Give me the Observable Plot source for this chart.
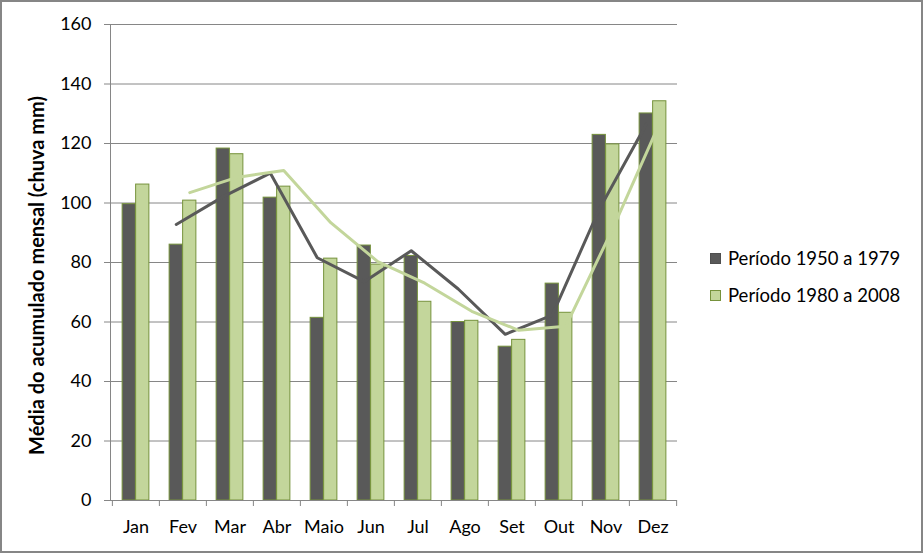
<!DOCTYPE html>
<html>
<head>
<meta charset="utf-8">
<script src="https://cdn.jsdelivr.net/npm/d3@7"></script>
<script src="https://cdn.jsdelivr.net/npm/@observablehq/plot@0.6"></script>
<style>
  body { margin: 0; background: #fff; }
  #chart { position: relative; width: 923px; height: 553px; overflow: hidden; font-family: Lato, sans-serif; background: #fff; }
  #chart svg { position: absolute; left: 0; top: 0; overflow: visible; }
  #border { position: absolute; left: 0; top: 0; width: 923px; height: 553px; box-sizing: border-box; border: 2px solid #868686; pointer-events: none; }
  .leg { position: absolute; left: 710px; height: 20px; display: flex; align-items: center; font-size: 18.5px; color: #000; white-space: nowrap; }
  .leg .sw { display: inline-block; width: 9px; height: 9px; border: 1px solid #76923c; margin-right: 7px; }
</style>
</head>
<body>
<div id="chart"><div id="border"></div></div>
<script>
const months = ["Jan", "Fev", "Mar", "Abr", "Maio", "Jun", "Jul", "Ago", "Set", "Out", "Nov", "Dez"];
const periodo1950 = [99.6, 86.0, 118.3, 101.8, 61.4, 85.7, 82.2, 60.0, 51.7, 72.9, 122.9, 130.1];
const periodo1980 = [106.2, 100.8, 116.4, 105.5, 81.3, 79.3, 66.8, 60.4, 54.0, 63.1, 119.7, 134.2];
const seriesNames = ["Período 1950 a 1979", "Período 1980 a 2008"];
const yTicks = [0, 20, 40, 60, 80, 100, 120, 140, 160];
const yLabel = "Média do acumulado mensal (chuva mm)";

const colors = ["#595959", "#c3d69b"];
const lineColors = ["#595959", "#c3d69b"];
const barStroke = "#76923c";
const gridColor = "#868686";

const data1 = months.map((m, i) => ({month: m, value: periodo1950[i]}));
const data2 = months.map((m, i) => ({month: m, value: periodo1980[i]}));

const W = 923, H = 553, mL = 110, mR = 246, mT = 24, mB = 53;
const bw = (W - mL - mR) / months.length;   // category width
const step = bw / 3.5;                        // bar width (gap width 150%)

const chart = Plot.plot({
  width: W,
  height: H,
  marginLeft: mL,
  marginRight: mR,
  marginTop: mT,
  marginBottom: mB,
  style: {fontFamily: "Lato, sans-serif", fontSize: "18px", color: "#000", background: "transparent", overflow: "visible"},
  x: {type: "band", domain: months, padding: 0, axis: null},
  y: {domain: [0, 160], axis: null},
  marks: [
    Plot.gridY(yTicks, {stroke: gridColor, strokeOpacity: 1}),
    Plot.frame({anchor: "left", stroke: gridColor, strokeOpacity: 1}),
    Plot.axisY(yTicks, {tickSize: 6, tickPadding: 13, stroke: gridColor, fill: "#000", label: null}),
    Plot.axisX(months, {tickSize: 6, tickFormat: () => "", dx: -bw / 2, stroke: gridColor, label: null}),
    Plot.axisX([months[months.length - 1]], {tickSize: 6, tickFormat: () => "", dx: bw / 2, stroke: gridColor, label: null}),
    Plot.axisX(months, {tickSize: 0, tickPadding: 20, fill: "#000", label: null}),
    Plot.barY(data1, {x: "month", y: "value", fill: colors[0], stroke: barStroke, strokeWidth: 1,
      insetLeft: 0.75 * step, insetRight: bw - 1.75 * step}),
    Plot.barY(data2, {x: "month", y: "value", fill: colors[1], stroke: barStroke, strokeWidth: 1,
      insetLeft: 1.75 * step, insetRight: 0.75 * step}),
    Plot.ruleY([0], {stroke: gridColor}),
    Plot.lineY(data1, Plot.windowY({k: 2, anchor: "end", strict: true},
      {x: "month", y: "value", stroke: lineColors[0], strokeWidth: 3, dx: -step / 2})),
    Plot.lineY(data2, Plot.windowY({k: 2, anchor: "end", strict: true},
      {x: "month", y: "value", stroke: lineColors[1], strokeWidth: 3, dx: step / 2})),
    Plot.text([yLabel], {frameAnchor: "left", textAnchor: "middle", rotate: -90, dx: -73, dy: 13,
      fontWeight: "bold", fontSize: 20, fill: "#000"})
  ]
});

const root = document.getElementById("chart");
root.insertBefore(chart, root.firstChild);

const legTops = [248, 285];
seriesNames.forEach((name, i) => {
  const d = document.createElement("div");
  d.className = "leg";
  d.style.top = legTops[i] + "px";
  const sw = document.createElement("span");
  sw.className = "sw";
  sw.style.background = colors[i];
  if (i === 0) sw.style.borderColor = "#4f4f4f";
  d.appendChild(sw);
  d.appendChild(document.createTextNode(name));
  root.appendChild(d);
});
</script>
</body>
</html>
